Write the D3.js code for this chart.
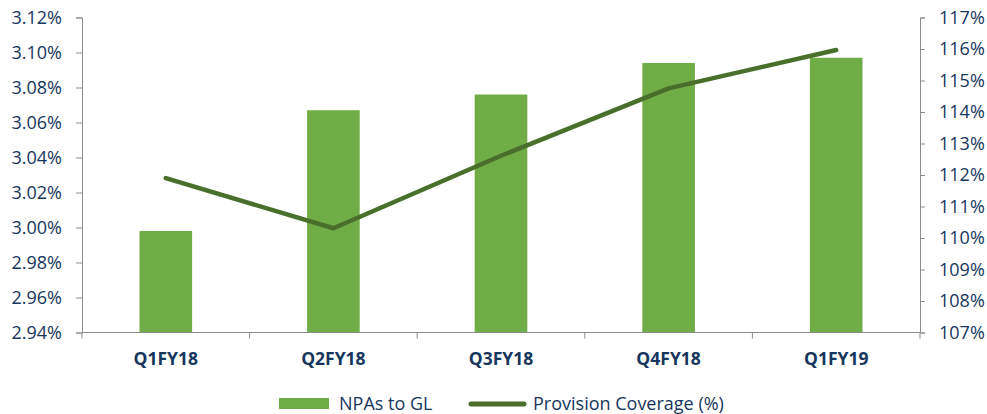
<!DOCTYPE html>
<html>
<head>
<meta charset="utf-8">
<script src="https://cdn.jsdelivr.net/npm/d3@7"></script>
<style>
  html, body { margin: 0; padding: 0; background: #ffffff; }
  svg text { font-family: "Open Sans", Lato, "Liberation Sans", sans-serif; fill: #17365d; }
</style>
</head>
<body>
<svg id="chart" width="987" height="414"></svg>
<script>
// Quarterly asset quality: NPAs to gross loans (bars, left axis) and provision coverage (line, right axis)
const quarters = ["Q1FY18", "Q2FY18", "Q3FY18", "Q4FY18", "Q1FY19"];
const npaToGL = [2.998, 3.067, 3.076, 3.094, 3.097];          // %
const provisionCoverage = [111.9, 110.31, 112.61, 114.75, 115.97]; // %
const leftTicks = [2.94, 2.96, 2.98, 3.00, 3.02, 3.04, 3.06, 3.08, 3.10, 3.12];
const rightTicks = [107, 108, 109, 110, 111, 112, 113, 114, 115, 116, 117];
const seriesNames = ["NPAs to GL", "Provision Coverage (%)"];

const margin = { left: 82, right: 67, top: 17.5, bottom: 81.5 };
const width = 987, height = 414;
const plotW = width - margin.left - margin.right;
const plotH = height - margin.top - margin.bottom;
const fontSize = 18;
const catFontSize = 17.5;

const svg = d3.select("#chart");
const g = svg.append("g").attr("transform", `translate(${margin.left},${margin.top})`);

const x = d3.scaleBand().domain(quarters).range([0, plotW]).padding(0);
const xBar = d3.scaleBand().domain(quarters).range([0, plotW])
  .paddingInner(0.686).paddingOuter(0.343);
const yL = d3.scaleLinear().domain([2.94, 3.12]).range([plotH, 0]);
const yR = d3.scaleLinear().domain([107, 117]).range([plotH, 0]);

const axisColor = "#8c8c8c";
const lineColor = "#4a6f2b";

// Bars
g.selectAll("rect.bar").data(quarters).enter().append("rect")
  .attr("class", "bar")
  .attr("x", d => xBar(d))
  .attr("width", xBar.bandwidth())
  .attr("y", (d, i) => yL(npaToGL[i]))
  .attr("height", (d, i) => plotH - yL(npaToGL[i]))
  .attr("fill", "#70ad47");

// Left axis
const axL = g.append("g").call(d3.axisLeft(yL).tickValues(leftTicks)
  .tickFormat(d => d.toFixed(2) + "%").tickSize(6).tickPadding(14));
// Right axis
const axR = g.append("g").attr("transform", `translate(${plotW},0)`)
  .call(d3.axisRight(yR).tickValues(rightTicks)
  .tickFormat(d => d + "%").tickSize(5).tickPadding(14));
[axL, axR].forEach(a => {
  a.select(".domain").attr("stroke", axisColor);
  a.selectAll(".tick line").attr("stroke", axisColor);
  a.selectAll("text").attr("font-size", fontSize).attr("fill", "#17365d");
});

// Category axis: boundaries between quarters carry tick marks
const xAxis = g.append("g").attr("transform", `translate(0,${plotH})`);
xAxis.append("line").attr("x1", 0).attr("x2", plotW).attr("stroke", axisColor);
const bounds = quarters.map(q => x(q)).concat([plotW]);
xAxis.selectAll("line.tk").data(bounds).enter().append("line")
  .attr("class", "tk").attr("x1", d => d).attr("x2", d => d)
  .attr("y1", 0).attr("y2", 6).attr("stroke", axisColor);
xAxis.selectAll("text").data(quarters).enter().append("text")
  .attr("x", d => x(d) + x.bandwidth() / 2)
  .attr("y", 32)
  .attr("text-anchor", "middle")
  .attr("font-size", catFontSize).attr("font-weight", "bold")
  .text(d => d);

// Provision coverage line
const line = d3.line()
  .x((d, i) => x(quarters[i]) + x.bandwidth() / 2)
  .y(d => yR(d));
g.append("path").datum(provisionCoverage)
  .attr("d", line)
  .attr("fill", "none")
  .attr("stroke", lineColor)
  .attr("stroke-width", 4.5)
  .attr("stroke-linecap", "round")
  .attr("stroke-linejoin", "round");

// Legend
const leg = svg.append("g").attr("transform", "translate(0,404)");
leg.append("rect").attr("x", 279).attr("y", -6).attr("width", 50).attr("height", 11).attr("fill", "#70ad47");
leg.append("text").attr("x", 339).attr("y", 6).attr("font-size", fontSize).text(seriesNames[0]);
leg.append("line").attr("x1", 471).attr("x2", 524).attr("y1", 0).attr("y2", 0)
  .attr("stroke", lineColor).attr("stroke-width", 5).attr("stroke-linecap", "round");
leg.append("text").attr("x", 533).attr("y", 6).attr("font-size", fontSize).text(seriesNames[1]);
</script>
</body>
</html>
